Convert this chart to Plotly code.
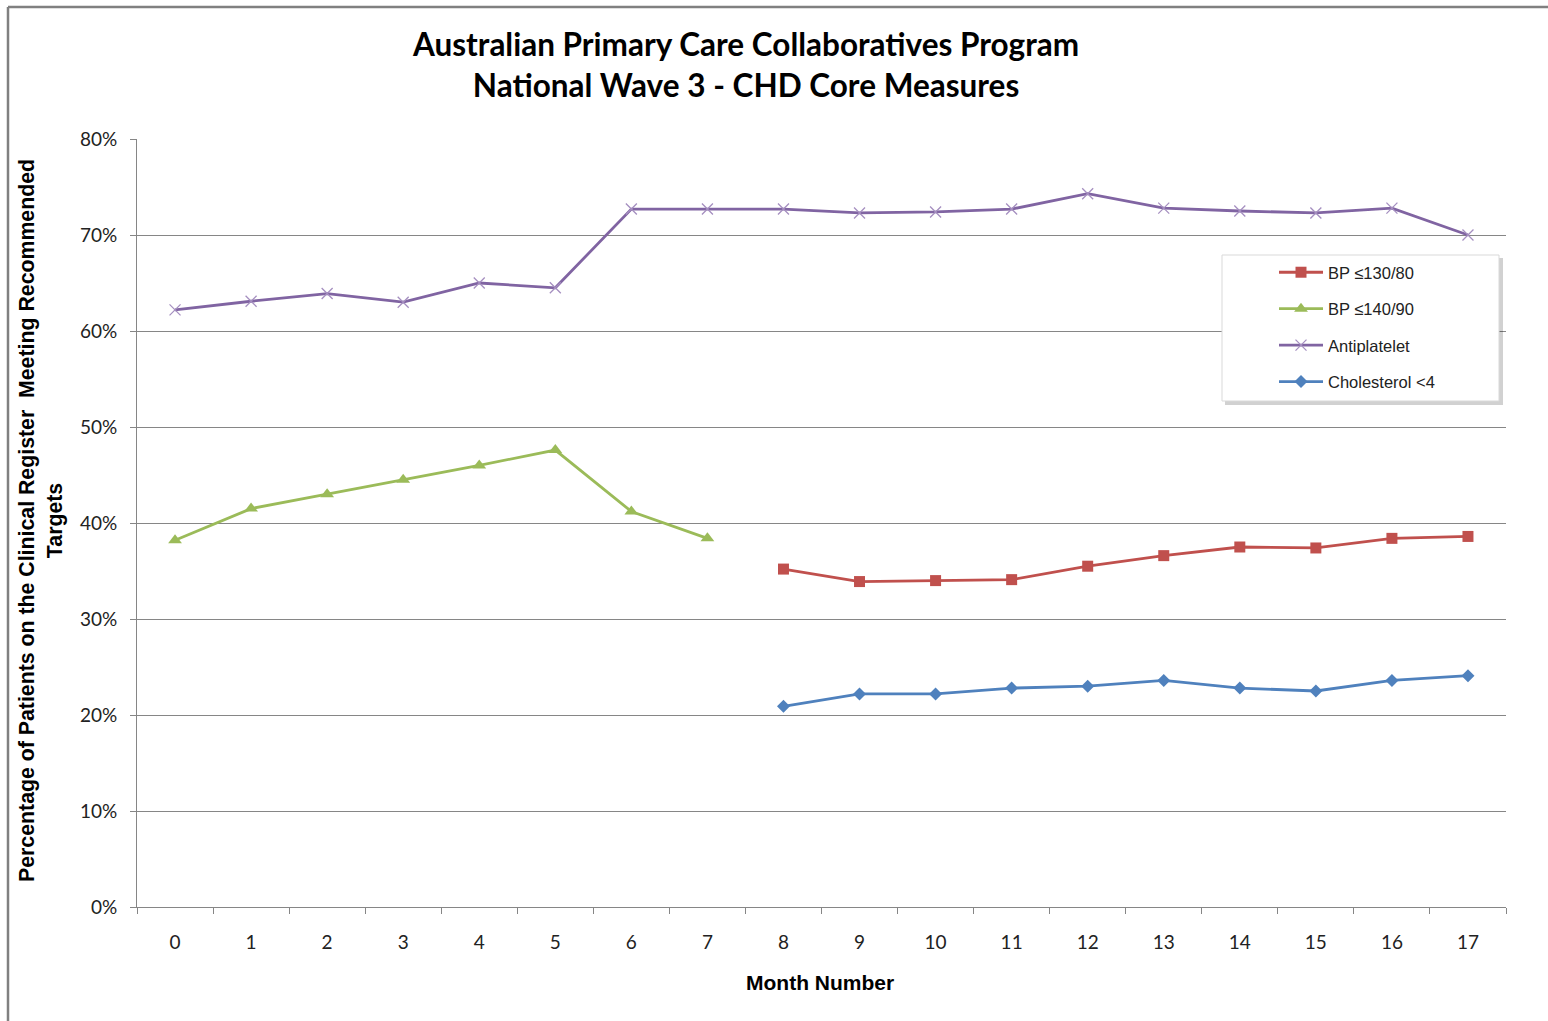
import plotly.graph_objects as go

months = [str(i) for i in range(18)]
bp130 = [None]*8 + [0.352, 0.339, 0.340, 0.341, 0.355, 0.366, 0.375, 0.374, 0.384, 0.386]
bp140 = [0.382, 0.415, 0.430, 0.445, 0.460, 0.476, 0.412, 0.384] + [None]*10
antiplatelet = [0.622, 0.631, 0.639, 0.630, 0.650, 0.645, 0.727, 0.727, 0.727, 0.723,
                0.724, 0.727, 0.743, 0.728, 0.725, 0.723, 0.728, 0.700]
cholesterol = [None]*8 + [0.209, 0.222, 0.222, 0.228, 0.230, 0.236, 0.228, 0.225, 0.236, 0.241]

L, R, T, B = 137, 1506, 139, 907
W, H = R - L, B - T
def px(x): return (x - L) / W
def py(y): return (B - y) / H

fig = go.Figure()
fig.add_trace(go.Scatter(x=months, y=bp130, name="BP \u2264130/80", mode="lines+markers",
                         line=dict(color="#C0504D", width=2.8),
                         marker=dict(symbol="square", size=11, color="#C0504D"),
                         legendgroup="a"))
fig.add_trace(go.Scatter(x=months, y=bp140, name="BP \u2264140/90", mode="lines+markers",
                         line=dict(color="#9BBB59", width=2.8),
                         marker=dict(symbol="triangle-up", size=12, color="#9BBB59"),
                         legendgroup="b"))
fig.add_trace(go.Scatter(x=months, y=antiplatelet, name="Antiplatelet", mode="lines+markers",
                         line=dict(color="#8064A2", width=2.8),
                         marker=dict(symbol="x-thin", size=11, color="#A58FC0",
                                     line=dict(color="#A58FC0", width=1.3)),
                         legendgroup="c"))
fig.add_trace(go.Scatter(x=months, y=cholesterol, name="Cholesterol <4", mode="lines+markers",
                         line=dict(color="#4F81BD", width=2.8),
                         marker=dict(symbol="diamond", size=10, color="#4F81BD"),
                         legendgroup="d"))

shapes = [
    # frame
    dict(type="line", xref="paper", yref="paper", x0=px(8), x1=px(1560), y0=py(7), y1=py(7),
         line=dict(color="#808080", width=2.5)),
    dict(type="line", xref="paper", yref="paper", x0=px(8), x1=px(8), y0=py(7), y1=py(1030),
         line=dict(color="#808080", width=2.5)),
    # legend shadow + box
    dict(type="rect", xref="paper", yref="paper", x0=px(1225), x1=px(1503), y0=py(258), y1=py(405),
         fillcolor="rgba(0,0,0,0.18)", line=dict(width=0), layer="above"),
    dict(type="rect", xref="paper", yref="paper", x0=px(1222), x1=px(1499), y0=py(255), y1=py(401),
         fillcolor="white", line=dict(color="#D9D9D9", width=1), layer="above"),
]

annotations = [
    dict(text="<b>Australian Primary Care Collaboratives Program<br>National Wave 3 - CHD Core Measures</b>",
         xref="paper", yref="paper", x=px(745), y=py(65), xanchor="center", yanchor="middle",
         showarrow=False, font=dict(family="Lato", size=31.5, color="#000000")),
    dict(text="<b>Percentage of Patients on the Clinical Register  Meeting Recommended<br>Targets</b>",
         xref="paper", yref="paper", x=px(41), y=py(521), xanchor="center", yanchor="middle",
         textangle=-90, showarrow=False, font=dict(family="Liberation Sans", size=21.3, color="#000000")),
    dict(text="<b>Month Number</b>",
         xref="paper", yref="paper", x=px(820), y=py(982), xanchor="center", yanchor="middle",
         showarrow=False, font=dict(family="Liberation Sans", size=21, color="#000000")),
]

fig.update_layout(
    width=1548, height=1021,
    margin=dict(l=L, r=1548 - R, t=T, b=1021 - B),
    paper_bgcolor="white", plot_bgcolor="white",
    shapes=shapes, annotations=annotations,
    showlegend=True,
    legend=dict(x=px(1274), y=py(255), xanchor="left", yanchor="top",
                bgcolor="rgba(0,0,0,0)", borderwidth=0,
                font=dict(family="Liberation Sans", size=16.5, color="#222222"),
                tracegroupgap=12, itemwidth=44, traceorder="grouped"),
    xaxis=dict(type="category", tickson="boundaries", showgrid=False,
               showline=True, linecolor="#868686", linewidth=1,
               ticks="outside", ticklen=6, tickcolor="#868686",
               tickfont=dict(family="Lato", size=19, color="#222222"),
               ticklabelstandoff=18, range=[-0.5, 17.5]),
    yaxis=dict(range=[0, 0.8], dtick=0.1, tickformat=".0%",
               showgrid=True, gridcolor="#868686", gridwidth=1,
               showline=True, linecolor="#868686", linewidth=1,
               ticks="outside", ticklen=6, tickcolor="#868686",
               tickfont=dict(family="Lato", size=19, color="#222222"),
               ticklabelstandoff=9, zeroline=False),
)

fig.write_html("out.html")
